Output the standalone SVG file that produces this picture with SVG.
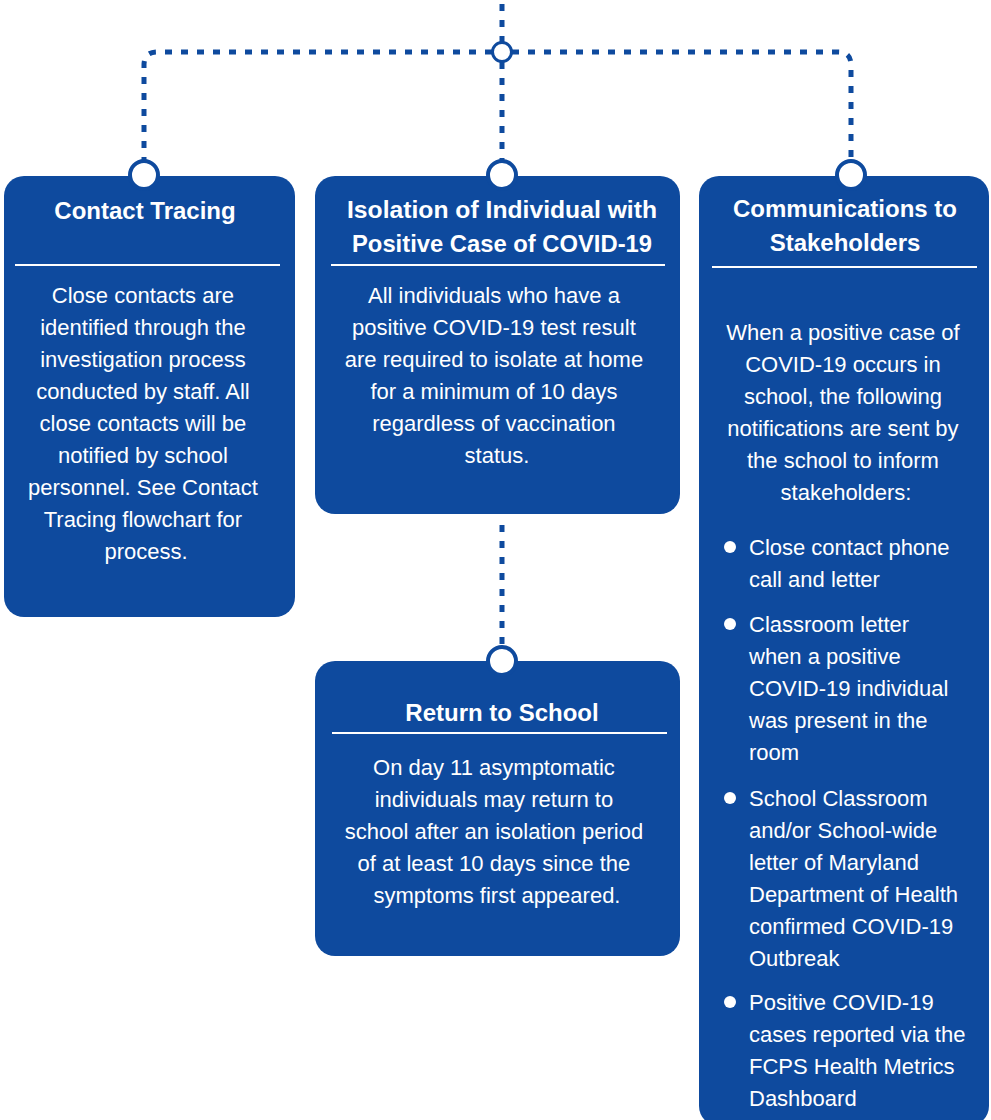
<svg xmlns="http://www.w3.org/2000/svg" width="991" height="1120" viewBox="0 0 991 1120">
<style>
.box{fill:#0E4A9E}
.conn{fill:none;stroke:#0E4A9E;stroke-width:5;stroke-dasharray:7 9}
.port{fill:#fff;stroke:#0E4A9E;stroke-width:4}
.rule{stroke:#fff;stroke-width:2}
.t{font-family:"Liberation Sans",Arial,sans-serif;font-weight:bold;font-size:24px;fill:#fff;text-anchor:middle}
.b{font-family:"Liberation Sans",Arial,sans-serif;font-size:22px;fill:#fff;text-anchor:middle}
.l{font-family:"Liberation Sans",Arial,sans-serif;font-size:22px;fill:#fff}
</style>
<rect width="991" height="1120" fill="#fff"/>
<g id="connectors">
<path class="conn" d="M502 4 V42"/>
<path class="conn" d="M492 52 H157 Q144 52 144 65 V160"/>
<path class="conn" d="M512 52 H838 Q851 52 851 65 V160"/>
<path class="conn" d="M502 62 V160"/>
<path class="conn" d="M502 525 V647"/>
<circle cx="502" cy="52" r="9.5" fill="#fff" stroke="#0E4A9E" stroke-width="3"/>
</g>
<g id="contact-tracing">
<rect class="box" x="4" y="176" width="291" height="441" rx="20"/>
<circle class="port" cx="144" cy="175" r="14"/>
<text class="t" x="145" y="219">Contact Tracing</text>
<line class="rule" x1="15" y1="265" x2="280" y2="265"/>
<text class="b" x="146">
<tspan x="146" y="303">Close contacts are</tspan>
<tspan x="146" y="335">identified through the</tspan>
<tspan x="146" y="367">investigation process</tspan>
<tspan x="146" y="399">conducted by staff. All</tspan>
<tspan x="146" y="431">close contacts will be</tspan>
<tspan x="146" y="463">notified by school</tspan>
<tspan x="146" y="495">personnel. See Contact</tspan>
<tspan x="146" y="527">Tracing flowchart for</tspan>
<tspan x="146" y="559">process.</tspan>
</text>
</g>
<g id="isolation">
<rect class="box" x="315" y="176" width="365" height="338" rx="20"/>
<circle class="port" cx="502" cy="175" r="14"/>
<text class="t" x="502" y="218" textLength="310" lengthAdjust="spacingAndGlyphs">Isolation of Individual with</text>
<text class="t" x="502" y="252" textLength="300" lengthAdjust="spacingAndGlyphs">Positive Case of COVID-19</text>
<line class="rule" x1="331" y1="265" x2="665" y2="265"/>
<text class="b">
<tspan x="497" y="303">All individuals who have a</tspan>
<tspan x="497" y="335">positive COVID-19 test result</tspan>
<tspan x="497" y="367">are required to isolate at home</tspan>
<tspan x="497" y="399">for a minimum of 10 days</tspan>
<tspan x="497" y="431">regardless of vaccination</tspan>
<tspan x="497" y="463">status.</tspan>
</text>
</g>
<g id="return-to-school">
<rect class="box" x="315" y="661" width="365" height="295" rx="20"/>
<circle class="port" cx="502" cy="661" r="14"/>
<text class="t" x="502" y="721">Return to School</text>
<line class="rule" x1="332" y1="733" x2="667" y2="733"/>
<text class="b">
<tspan x="497" y="775">On day 11 asymptomatic</tspan>
<tspan x="497" y="807">individuals may return to</tspan>
<tspan x="497" y="839">school after an isolation period</tspan>
<tspan x="497" y="871">of at least 10 days since the</tspan>
<tspan x="497" y="903">symptoms first appeared.</tspan>
</text>
</g>
<g id="communications">
<rect class="box" x="699" y="176" width="290" height="950" rx="20"/>
<circle class="port" cx="851" cy="175" r="14"/>
<text class="t" x="845" y="217">Communications to</text>
<text class="t" x="845" y="251">Stakeholders</text>
<line class="rule" x1="712" y1="267" x2="977" y2="267"/>
<text class="b">
<tspan x="846" y="340">When a positive case of</tspan>
<tspan x="846" y="372">COVID-19 occurs in</tspan>
<tspan x="846" y="404">school, the following</tspan>
<tspan x="846" y="436">notifications are sent by</tspan>
<tspan x="846" y="468">the school to inform</tspan>
<tspan x="846" y="500">stakeholders:</tspan>
</text>
<g fill="#fff">
<circle cx="730" cy="547" r="6"/>
<circle cx="730" cy="624" r="6"/>
<circle cx="730" cy="798" r="6"/>
<circle cx="730" cy="1002" r="6"/>
</g>
<text class="l">
<tspan x="749" y="555">Close contact phone</tspan>
<tspan x="749" y="587">call and letter</tspan>
<tspan x="749" y="632">Classroom letter</tspan>
<tspan x="749" y="664">when a positive</tspan>
<tspan x="749" y="696">COVID-19 individual</tspan>
<tspan x="749" y="728">was present in the</tspan>
<tspan x="749" y="760">room</tspan>
<tspan x="749" y="806">School Classroom</tspan>
<tspan x="749" y="838">and/or School-wide</tspan>
<tspan x="749" y="870">letter of Maryland</tspan>
<tspan x="749" y="902">Department of Health</tspan>
<tspan x="749" y="934">confirmed COVID-19</tspan>
<tspan x="749" y="966">Outbreak</tspan>
<tspan x="749" y="1010">Positive COVID-19</tspan>
<tspan x="749" y="1042">cases reported via the</tspan>
<tspan x="749" y="1074">FCPS Health Metrics</tspan>
<tspan x="749" y="1106">Dashboard</tspan>
</text>
</g>
</svg>
